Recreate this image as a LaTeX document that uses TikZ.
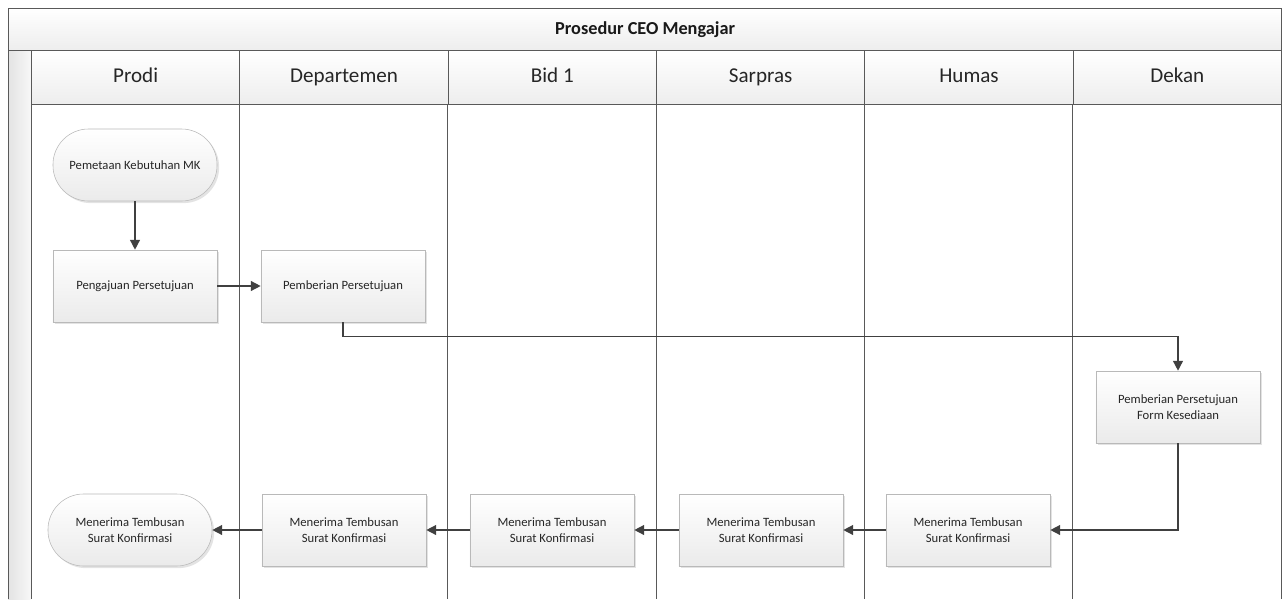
\documentclass[tikz,border=0pt]{standalone}
\usepackage{fontspec}
\setmainfont{Carlito}
\usetikzlibrary{shadows,arrows.meta}

\tikzset{
  titleband/.style={draw=black!65, line width=0.7pt, top color=white, bottom color=gray!14,
    minimum width=31.825cm, minimum height=1.05cm, inner sep=0pt,
    font=\fontsize{13}{15}\selectfont\bfseries, text=black!90},
  lanehead/.style={draw=black!65, line width=0.7pt, top color=white, bottom color=gray!14,
    minimum width=5.208cm, minimum height=1.35cm, inner sep=0pt,
    text height=10.5pt, text depth=3.5pt,
    font=\fontsize{15}{17}\selectfont, text=black!85},
  laneline/.style={draw=black!65, line width=0.7pt},
  process/.style={draw=gray!55, top color=white, bottom color=gray!16,
    drop shadow={opacity=0.22, shadow xshift=1.5pt, shadow yshift=-1.5pt},
    minimum width=4.1cm, minimum height=1.8cm, inner sep=2pt, align=center,
    font=\fontsize{9}{11.5}\selectfont, text=black!85},
  terminal/.style={process, rounded corners=0.89cm},
  flow/.style={draw=black!75, line width=1pt, -{Triangle[length=7pt,width=7pt]}}
}

\begin{document}
\begin{tikzpicture}[x=0.025cm, y=0.025cm]
  \useasboundingbox (0,0) rectangle (1283,-599);

  % pool frame
  \fill[left color=gray!22, right color=gray!6] (8,-50) rectangle (31,-599);
  \draw[laneline] (8,-50) -- (8,-599);
  \node[titleband, anchor=north west] (title) at (8,-8) {Prosedur CEO Mengajar};

  % lanes
  \foreach \name [count=\i from 0] in {Prodi,Departemen,Bid 1,Sarpras,Humas,Dekan}
    \node[lanehead, anchor=north west] (lane\i) at ({31+208.33*\i},-50) {\name};
  \foreach \i in {0,...,6}
    \draw[laneline] ({31+208.33*\i},-104) -- ({31+208.33*\i},-599);

  % steps
  \node[terminal] (pemetaan) at (135,-165) {Pemetaan Kebutuhan MK};
  \node[process] (pengajuan) at (135,-286) {Pengajuan Persetujuan};
  \node[process] (pemberian) at (343,-286) {Pemberian Persetujuan};
  \node[process] (form) at (1178,-407) {Pemberian Persetujuan\\Form Kesediaan};
  \node[process] (humas) at (968,-530) {Menerima Tembusan\\Surat Konfirmasi};
  \node[process] (sarpras) at (761,-530) {Menerima Tembusan\\Surat Konfirmasi};
  \node[process] (bid) at (552,-530) {Menerima Tembusan\\Surat Konfirmasi};
  \node[process] (dept) at (344,-530) {Menerima Tembusan\\Surat Konfirmasi};
  \node[terminal] (terima) at (130,-530) {Menerima Tembusan\\Surat Konfirmasi};

  % flows
  \draw[flow] (pemetaan) -- (pengajuan);
  \draw[flow] (pengajuan) -- (pemberian);
  \draw[flow] (pemberian.south) -- ++(0,-14) -| (form);
  \draw[flow] (form) |- (humas);
  \draw[flow] (humas) -- (sarpras);
  \draw[flow] (sarpras) -- (bid);
  \draw[flow] (bid) -- (dept);
  \draw[flow] (dept) -- (terima);
\end{tikzpicture}
\end{document}
